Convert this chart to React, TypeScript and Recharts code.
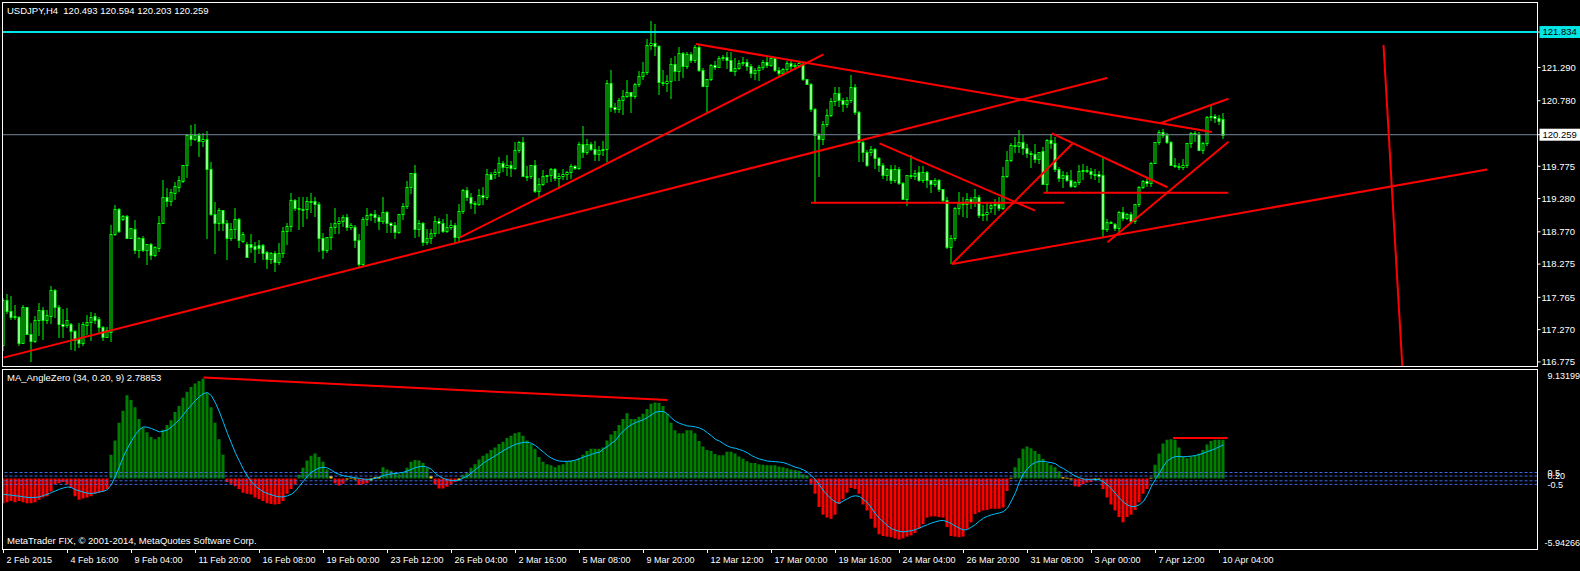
import React from "react";
import { ComposedChart, Bar, Line, XAxis, YAxis, ReferenceLine, Cell } from "recharts";

const FONT = "'Liberation Sans', Arial, sans-serif";
const AXIS_W = 42.5;
const X_DOMAIN: [number, number] = [-0.375, 383.5];
const PRICE_DOMAIN: [number, number] = [116.712, 122.279];
const IND_DOMAIN: [number, number] = [-5.94266, 9.13199];

// USDJPY H4 bars, [open, high, low, close]
const candles: number[][] = [
  [117.03, 117.75, 116.96, 117.72], [117.73, 117.82, 117.52, 117.55], [117.55, 117.79, 117.44, 117.47], [117.47, 117.65, 117.44, 117.48],
  [117.46, 117.48, 117.03, 117.07], [117.07, 117.65, 117.06, 117.61], [117.61, 117.62, 117.2, 117.21], [117.21, 117.37, 116.79, 117.1],
  [117.1, 117.48, 117.08, 117.42], [117.42, 117.68, 117.19, 117.57], [117.57, 117.62, 117.12, 117.42], [117.42, 117.57, 117.37, 117.49],
  [117.48, 117.94, 117.37, 117.88], [117.88, 117.89, 117.47, 117.61], [117.62, 117.65, 117.16, 117.35], [117.35, 117.59, 117.16, 117.32],
  [117.34, 117.6, 117.31, 117.42], [117.35, 117.37, 116.98, 117.25], [117.25, 117.27, 116.95, 117.11], [117.12, 117.37, 117.01, 117.06],
  [117.06, 117.38, 117.03, 117.36], [117.34, 117.49, 117.21, 117.39], [117.38, 117.54, 117.11, 117.47], [117.48, 117.53, 117.37, 117.42],
  [117.43, 117.47, 117.24, 117.31], [117.31, 117.32, 117.11, 117.16], [117.16, 117.31, 117.15, 117.26], [117.24, 118.88, 117.1, 118.73],
  [118.74, 119.18, 118.72, 119.12], [119.12, 119.14, 118.77, 118.79], [118.97, 119.03, 118.95, 119.01], [119.01, 119.03, 118.67, 118.68],
  [118.68, 118.83, 118.67, 118.83], [118.82, 118.95, 118.44, 118.49], [118.49, 118.69, 118.39, 118.68], [118.68, 118.7, 118.47, 118.49],
  [118.49, 118.58, 118.27, 118.58], [118.58, 118.6, 118.35, 118.42], [118.41, 118.55, 118.4, 118.53], [118.52, 119.01, 118.48, 118.91],
  [118.91, 119.57, 118.9, 119.3], [119.3, 119.44, 119.17, 119.25], [119.25, 119.43, 119.18, 119.38], [119.37, 119.54, 119.28, 119.47],
  [119.46, 119.63, 119.4, 119.56], [119.55, 119.79, 119.54, 119.79], [119.8, 120.27, 119.61, 120.26], [120.26, 120.41, 120.1, 120.2],
  [120.2, 120.43, 120.18, 120.26], [120.26, 120.29, 119.94, 120.17], [120.17, 120.29, 120.08, 120.2], [120.2, 120.32, 118.67, 119.74],
  [119.74, 119.84, 119.03, 119.04], [119.04, 119.23, 118.45, 118.91], [118.91, 119.13, 118.8, 119.1], [119.1, 119.11, 118.8, 118.9],
  [118.9, 118.95, 118.35, 118.67], [118.67, 118.9, 118.64, 118.82], [118.82, 119.14, 118.67, 118.96], [118.96, 118.98, 118.53, 118.65],
  [118.63, 118.76, 118.62, 118.74], [118.58, 118.62, 118.38, 118.39], [118.58, 118.74, 118.46, 118.54], [118.55, 118.62, 118.3, 118.51],
  [118.57, 118.64, 118.44, 118.52], [118.57, 118.58, 118.36, 118.45], [118.46, 118.48, 118.21, 118.35], [118.35, 118.46, 118.29, 118.44],
  [118.44, 118.48, 118.17, 118.3], [118.3, 118.6, 118.28, 118.45], [118.45, 118.85, 118.38, 118.78], [118.78, 118.91, 118.59, 118.86],
  [118.86, 119.36, 118.79, 119.26], [119.26, 119.28, 119.1, 119.14], [119.14, 119.3, 118.81, 119.12], [119.12, 119.31, 118.86, 119.12],
  [119.12, 119.31, 118.98, 119.25], [119.25, 119.36, 119.08, 119.24], [119.24, 119.31, 119.01, 119.2], [119.2, 119.22, 118.48, 118.67],
  [118.67, 118.75, 118.37, 118.49], [118.49, 118.69, 118.46, 118.69], [118.69, 118.91, 118.5, 118.84], [118.84, 119.14, 118.75, 118.91],
  [118.91, 118.99, 118.75, 118.93], [118.93, 119.03, 118.86, 118.99], [118.99, 119.05, 118.8, 118.85], [118.85, 118.91, 118.81, 118.87],
  [118.85, 118.87, 118.53, 118.64], [118.64, 118.74, 118.23, 118.27], [118.27, 118.99, 118.24, 118.96], [118.96, 119.14, 118.87, 119.03],
  [119.03, 119.06, 118.95, 119.05], [119.05, 119.1, 118.92, 118.99], [118.99, 119.03, 118.81, 118.93], [118.93, 119.31, 118.9, 119.08],
  [119.08, 119.09, 118.76, 118.9], [118.9, 118.92, 118.77, 118.88], [118.88, 118.92, 118.68, 118.76], [118.76, 119.04, 118.75, 119.04],
  [119.04, 119.21, 118.96, 119.17], [119.17, 119.55, 119.14, 119.45], [119.45, 119.67, 119.37, 119.67], [119.67, 119.79, 118.69, 118.81],
  [118.81, 118.95, 118.7, 118.91], [118.91, 118.92, 118.56, 118.62], [118.62, 118.82, 118.58, 118.67], [118.67, 118.82, 118.6, 118.75],
  [118.75, 119.01, 118.7, 118.93], [118.93, 118.98, 118.75, 118.91], [118.91, 118.96, 118.76, 118.78], [118.78, 119.04, 118.76, 118.84],
  [118.84, 118.95, 118.81, 118.87], [118.87, 118.91, 118.62, 118.69], [118.69, 119.2, 118.62, 119.09], [119.09, 119.43, 119.06, 119.41],
  [119.41, 119.45, 119.26, 119.31], [119.31, 119.36, 119.13, 119.21], [119.21, 119.25, 119.06, 119.2], [119.2, 119.42, 119.18, 119.33],
  [119.33, 119.46, 119.2, 119.31], [119.31, 119.74, 119.27, 119.66], [119.66, 119.69, 119.58, 119.58], [119.65, 119.73, 119.59, 119.69],
  [119.69, 119.92, 119.62, 119.82], [119.82, 119.86, 119.7, 119.77], [119.77, 119.95, 119.64, 119.79], [119.79, 119.85, 119.62, 119.75],
  [119.75, 120.14, 119.74, 120.02], [120.02, 120.16, 120.0, 120.14], [120.14, 120.22, 119.62, 119.63], [119.63, 119.78, 119.56, 119.62],
  [119.62, 119.8, 119.6, 119.79], [119.79, 119.87, 119.38, 119.39], [119.39, 119.59, 119.32, 119.51], [119.51, 119.72, 119.49, 119.62],
  [119.62, 119.64, 119.54, 119.64], [119.64, 119.75, 119.55, 119.74], [119.74, 119.75, 119.56, 119.59], [119.59, 119.67, 119.44, 119.62],
  [119.62, 119.73, 119.58, 119.66], [119.66, 119.7, 119.58, 119.68], [119.68, 119.81, 119.59, 119.78], [119.78, 119.8, 119.73, 119.75],
  [119.75, 120.14, 119.74, 120.12], [120.12, 120.39, 119.91, 119.99], [119.99, 120.19, 119.97, 120.11], [120.11, 120.15, 120.02, 120.04],
  [120.04, 120.16, 119.87, 119.96], [119.96, 120.09, 119.87, 120.03], [120.03, 120.16, 119.95, 120.04], [120.04, 121.1, 119.85, 121.05],
  [121.05, 121.25, 120.62, 120.69], [120.69, 120.75, 120.61, 120.65], [120.65, 120.82, 120.61, 120.79], [120.79, 120.94, 120.57, 120.85],
  [120.85, 121.1, 120.83, 120.91], [120.91, 120.91, 120.61, 120.85], [120.85, 121.05, 120.82, 121.03], [121.03, 121.24, 121.0, 121.16],
  [121.16, 121.38, 121.11, 121.22], [121.22, 121.73, 121.19, 121.64], [121.64, 122.0, 121.58, 121.67], [121.67, 121.96, 121.48, 121.62],
  [121.62, 121.64, 120.88, 121.07], [121.07, 121.25, 121.02, 121.05], [121.05, 121.18, 120.93, 121.08], [121.08, 121.43, 120.82, 121.34],
  [121.34, 121.46, 121.1, 121.23], [121.23, 121.6, 121.1, 121.51], [121.51, 121.53, 121.15, 121.32], [121.32, 121.52, 121.28, 121.5],
  [121.5, 121.52, 121.38, 121.4], [121.4, 121.64, 121.38, 121.61], [121.61, 121.63, 121.24, 121.25], [121.25, 121.28, 121.0, 121.01],
  [121.01, 121.12, 120.61, 121.11], [121.11, 121.34, 121.1, 121.33], [121.33, 121.39, 121.27, 121.3], [121.3, 121.46, 121.29, 121.43],
  [121.43, 121.48, 121.4, 121.45], [121.45, 121.53, 121.28, 121.41], [121.41, 121.53, 121.23, 121.24], [121.24, 121.43, 121.18, 121.28],
  [121.28, 121.4, 121.26, 121.36], [121.36, 121.45, 121.33, 121.38], [121.38, 121.42, 121.25, 121.31], [121.31, 121.34, 121.15, 121.21],
  [121.21, 121.28, 121.12, 121.25], [121.25, 121.33, 121.1, 121.29], [121.29, 121.4, 121.27, 121.38], [121.38, 121.45, 121.3, 121.33],
  [121.33, 121.46, 121.31, 121.44], [121.44, 121.45, 121.24, 121.25], [121.25, 121.3, 121.17, 121.21], [121.21, 121.28, 121.18, 121.26],
  [121.26, 121.39, 121.24, 121.36], [121.36, 121.4, 121.27, 121.31], [121.31, 121.36, 121.27, 121.33], [121.33, 121.38, 121.3, 121.36],
  [121.34, 121.36, 121.1, 121.11], [121.11, 121.12, 121.03, 121.04], [121.04, 121.05, 120.62, 120.65], [120.65, 120.67, 119.23, 120.25],
  [120.25, 120.28, 119.62, 120.19], [120.19, 120.47, 120.12, 120.43], [120.43, 120.65, 120.4, 120.56], [120.56, 120.82, 120.55, 120.77],
  [120.77, 120.99, 120.72, 120.9], [120.9, 120.99, 120.7, 120.79], [120.79, 120.82, 120.63, 120.73], [120.73, 120.83, 120.68, 120.79],
  [120.79, 121.17, 120.76, 120.99], [120.99, 121.03, 120.58, 120.6], [120.6, 120.62, 119.85, 120.14], [120.14, 120.17, 119.85, 120.0],
  [120.0, 120.02, 119.78, 119.79], [119.99, 120.08, 119.95, 120.04], [120.04, 120.05, 119.75, 119.9], [119.9, 119.92, 119.7, 119.79],
  [119.79, 119.83, 119.59, 119.64], [119.64, 119.75, 119.56, 119.74], [119.74, 119.8, 119.52, 119.57], [119.57, 119.8, 119.54, 119.74],
  [119.74, 119.76, 119.51, 119.52], [119.52, 119.53, 119.27, 119.27], [119.27, 119.64, 119.18, 119.64], [119.64, 119.95, 119.59, 119.62],
  [119.62, 119.72, 119.58, 119.67], [119.68, 119.78, 119.55, 119.56], [119.56, 119.78, 119.53, 119.68], [119.68, 119.7, 119.46, 119.56],
  [119.56, 119.57, 119.38, 119.51], [119.51, 119.59, 119.47, 119.57], [119.57, 119.58, 119.4, 119.42], [119.42, 119.43, 119.22, 119.26],
  [119.26, 119.31, 118.52, 118.54], [118.54, 118.72, 118.29, 118.67], [118.67, 119.15, 118.65, 119.13], [119.13, 119.38, 119.05, 119.21],
  [119.21, 119.31, 119.01, 119.19], [119.19, 119.37, 119.0, 119.27], [119.27, 119.31, 119.13, 119.22], [119.22, 119.43, 119.16, 119.31],
  [119.31, 119.33, 119.0, 119.03], [119.03, 119.18, 118.95, 119.05], [119.05, 119.21, 118.95, 119.07], [119.13, 119.21, 119.08, 119.18],
  [119.18, 119.28, 119.05, 119.2], [119.2, 119.3, 119.1, 119.14], [119.14, 119.77, 119.12, 119.62], [119.62, 120.01, 119.61, 119.87],
  [119.87, 120.13, 119.86, 120.1], [120.1, 120.23, 120.0, 120.08], [120.08, 120.33, 120.0, 120.14], [120.14, 120.25, 119.97, 120.06],
  [120.06, 120.12, 119.92, 119.98], [119.98, 120.01, 119.77, 119.96], [119.96, 120.12, 119.84, 119.88], [119.88, 120.0, 119.82, 119.99],
  [120.01, 120.07, 119.5, 119.51], [119.51, 120.19, 119.39, 120.18], [120.18, 120.27, 120.05, 120.13], [120.13, 120.22, 119.7, 119.73],
  [119.73, 119.77, 119.55, 119.59], [119.59, 119.7, 119.46, 119.64], [119.64, 119.68, 119.55, 119.57], [119.57, 119.72, 119.45, 119.47],
  [119.47, 119.55, 119.45, 119.53], [119.53, 119.8, 119.5, 119.7], [119.7, 119.81, 119.58, 119.72], [119.72, 119.78, 119.68, 119.7],
  [119.7, 119.75, 119.6, 119.66], [119.66, 119.73, 119.58, 119.65], [119.65, 119.7, 119.54, 119.63], [119.64, 119.9, 118.69, 118.81],
  [118.81, 118.96, 118.78, 118.92], [118.92, 118.94, 118.9, 118.92], [118.89, 118.9, 118.8, 118.83], [118.83, 119.09, 118.78, 119.07],
  [119.07, 119.15, 118.95, 118.98], [118.98, 119.06, 118.96, 119.05], [119.05, 119.07, 118.92, 118.93], [118.93, 119.2, 118.9, 119.2],
  [119.2, 119.47, 119.16, 119.45], [119.45, 119.56, 119.44, 119.55], [119.55, 119.6, 119.47, 119.52], [119.52, 119.84, 119.47, 119.83],
  [119.83, 120.15, 119.82, 120.14], [120.14, 120.33, 120.12, 120.3], [120.3, 120.34, 120.22, 120.26], [120.26, 120.28, 120.13, 120.14],
  [120.14, 120.17, 119.79, 119.8], [119.8, 119.9, 119.77, 119.78], [119.78, 119.83, 119.74, 119.76], [119.76, 119.88, 119.74, 119.79],
  [119.79, 120.13, 119.77, 120.13], [120.13, 120.3, 120.07, 120.28], [120.28, 120.32, 120.17, 120.27], [120.27, 120.3, 120.02, 120.03],
  [120.03, 120.14, 119.98, 120.13], [120.13, 120.55, 120.1, 120.53], [120.53, 120.7, 120.48, 120.55], [120.55, 120.58, 120.45, 120.52],
  [120.52, 120.56, 120.43, 120.47], [120.493, 120.594, 120.203, 120.259],
];

// MA_AngleZero histogram, one value per bar
const histogram = [
  -2.1, -2.0, -1.9, -2.0, -1.9, -2.0, -2.1, -2.1, -2.0, -1.8,
  -1.6, -1.5, -1.1, -0.5, -0.4, -0.3, -0.5, -0.8, -1.5, -1.8,
  -1.7, -1.6, -1.5, -1.3, -1.2, -1.1, -0.9, 2.0, 3.2, 4.7,
  5.7, 7.0, 6.6, 6.0, 5.0, 4.3, 3.9, 3.5, 3.3, 3.5,
  4.1, 4.5, 4.9, 5.6, 6.1, 6.8, 7.3, 7.7, 8.0, 8.2,
  8.4, 7.2, 6.0, 4.7, 3.3, 2.0, -0.3, -0.45, -0.65, -0.9,
  -1.2, -1.3, -1.35, -1.6, -1.75, -1.9, -2.1, -2.15, -2.2, -2.15,
  -1.9, -1.3, -0.9, -0.5, 0.3, 0.9, 1.5, 1.9, 2.1, 1.8,
  1.4, 0.75, 0.2, -0.4, -0.6, -0.45, -0.1, 0.05, -0.1, -0.55,
  -0.5, -0.4, -0.2, 0.1, 0.15, 0.95, 0.75, 0.65, 0.45, 0.35,
  0.5, 0.9, 1.4, 1.55, 1.5, 1.3, 0.9, 0.2, -0.5, -0.85,
  -0.85, -0.7, -0.5, -0.3, -0.15, 0.3, 0.5, 0.9, 1.2, 1.6,
  1.9, 2.1, 2.4, 2.6, 2.9, 3.1, 3.4, 3.6, 3.8, 3.9,
  3.6, 3.2, 2.9, 2.5, 1.8, 1.4, 1.2, 1.1, 0.95, 1.1,
  1.2, 1.4, 1.5, 1.5, 1.7, 2.0, 2.3, 2.5, 2.5, 2.5,
  2.6, 3.2, 3.7, 4.0, 4.5, 5.0, 5.5, 5.0, 5.0, 5.2,
  5.45, 5.85, 6.3, 6.4, 6.35, 6.1, 5.45, 4.7, 4.05, 3.8,
  3.8, 4.05, 4.05, 3.8, 3.15, 2.7, 2.4, 2.3, 2.05, 1.95,
  1.95, 2.25, 2.25, 2.1, 1.85, 1.65, 1.45, 1.3, 1.3, 1.2,
  1.15, 1.1, 1.1, 1.1, 1.0, 0.95, 0.85, 0.75, 0.7, 0.65,
  0.35, 0.25, -0.45, -1.3, -2.4, -3.05, -3.3, -3.4, -3.05, -2.15,
  -1.75, -1.2, -0.8, -0.9, -1.3, -2.2, -2.7, -3.4, -4.15, -4.7,
  -4.85, -4.9, -4.95, -5.05, -5.15, -5.05, -4.9, -4.8, -4.6, -4.25,
  -3.85, -3.3, -3.2, -3.2, -3.25, -3.3, -4.1, -4.85, -4.9, -4.95,
  -4.9, -4.25, -3.7, -3.0, -2.85, -2.7, -2.65, -2.55, -2.55, -2.55,
  -2.45, -1.05, 0.05, 0.95, 1.7, 2.5, 2.7, 2.55, 2.3, 2.05,
  1.65, 1.3, 1.1, 0.95, 0.6, 0.1, 0.05, -0.1, -0.65, -0.7,
  -0.5, -0.35, -0.3, -0.15, -0.1, -0.9, -1.6, -2.2, -2.7, -3.25,
  -3.7, -3.25, -3.05, -2.65, -2.0, -1.3, -0.9, 0.05, 1.15, 2.1,
  2.95, 3.25, 3.3, 3.25, 2.6, 1.85, 1.7, 1.85, 1.95, 2.1,
  2.4, 2.85, 3.15, 3.25, 3.25, 3.25,
];

// signal line (period 9)
const signal = [
  -1.33, -1.38, -1.41, -1.46, -1.49, -1.55, -1.6, -1.6, -1.6, -1.55,
  -1.44, -1.33, -1.19, -1.05, -0.91, -0.8, -0.72, -0.77, -0.94, -1.05,
  -1.16, -1.24, -1.27, -1.22, -1.13, -1.08, -0.94, -0.5, 0.2, 1.02,
  1.85, 2.54, 3.15, 3.7, 4.12, 4.34, 4.31, 4.2, 4.06, 3.92,
  3.98, 4.09, 4.34, 4.64, 4.97, 5.39, 5.8, 6.19, 6.57, 6.9,
  7.15, 7.24, 6.96, 6.35, 5.58, 4.7, 3.78, 2.96, 2.13, 1.44,
  0.75, 0.19, -0.28, -0.64, -0.91, -1.13, -1.27, -1.38, -1.49, -1.55,
  -1.55, -1.46, -1.33, -1.05, -0.64, -0.22, 0.19, 0.52, 0.75, 0.88,
  0.94, 0.88, 0.69, 0.47, 0.33, 0.22, 0.17, 0.11, 0.06, 0.0,
  -0.06, -0.08, -0.06, 0.0, 0.11, 0.25, 0.33, 0.39, 0.41, 0.47,
  0.52, 0.64, 0.77, 0.91, 0.99, 1.02, 0.94, 0.77, 0.41, 0.17,
  0.0, -0.11, -0.17, -0.17, -0.14, 0.06, 0.19, 0.47, 0.75, 1.02,
  1.3, 1.52, 1.71, 1.93, 2.13, 2.35, 2.54, 2.71, 2.87, 2.96,
  3.04, 3.04, 2.96, 2.76, 2.49, 2.21, 1.93, 1.71, 1.55, 1.46,
  1.44, 1.44, 1.46, 1.55, 1.66, 1.8, 1.91, 2.02, 2.15, 2.2,
  2.49, 2.68, 2.96, 3.2, 3.65, 4.0, 4.31, 4.53, 4.7, 4.83,
  4.94, 5.14, 5.36, 5.58, 5.64, 5.64, 5.44, 5.08, 4.81, 4.64,
  4.53, 4.42, 4.39, 4.34, 4.25, 4.09, 3.84, 3.59, 3.29, 3.15,
  2.93, 2.73, 2.6, 2.54, 2.43, 2.32, 2.15, 1.93, 1.77, 1.63,
  1.55, 1.46, 1.44, 1.41, 1.38, 1.33, 1.22, 1.08, 0.94, 0.86,
  0.72, 0.52, 0.22, -0.11, -0.55, -1.05, -1.41, -1.74, -1.99, -2.1,
  -1.88, -1.71, -1.52, -1.46, -1.52, -1.77, -2.04, -2.49, -2.98, -3.37,
  -3.67, -3.98, -4.23, -4.36, -4.45, -4.5, -4.45, -4.39, -4.31, -4.17,
  -4.03, -3.9, -3.76, -3.65, -3.56, -3.54, -3.65, -3.81, -4.01, -4.2,
  -4.34, -4.31, -4.09, -3.87, -3.59, -3.34, -3.18, -3.07, -2.98, -2.9,
  -2.79, -2.49, -1.88, -1.19, -0.28, 0.39, 0.83, 1.16, 1.35, 1.44,
  1.44, 1.38, 1.33, 1.24, 0.99, 0.83, 0.61, 0.39, 0.19, 0.06,
  -0.06, -0.08, -0.08, -0.08, -0.11, -0.28, -0.55, -0.88, -1.27, -1.66,
  -1.99, -2.24, -2.38, -2.35, -2.21, -1.93, -1.38, -0.64, -0.08, 0.47,
  1.05, 1.49, 1.71, 1.85, 1.85, 1.82, 1.85, 1.88, 1.93, 2.02,
  2.13, 2.27, 2.38, 2.51, 2.68, 2.82,
];

const dateTicks = [0, 16, 32, 48, 64, 80, 96, 112, 128, 144, 160, 176, 192, 208, 224, 240, 256, 272, 288, 304];
const dateLabels = [
  "2 Feb 2015", "4 Feb 16:00", "9 Feb 04:00", "11 Feb 20:00", "16 Feb 08:00", "19 Feb 00:00", "23 Feb 12:00",
  "26 Feb 04:00", "2 Mar 16:00", "5 Mar 08:00", "9 Mar 20:00", "12 Mar 12:00", "17 Mar 00:00", "19 Mar 16:00",
  "24 Mar 04:00", "26 Mar 20:00", "31 Mar 08:00", "3 Apr 00:00", "7 Apr 12:00", "10 Apr 04:00",
];

const priceTicks = [121.29, 120.78, 119.775, 119.28, 118.77, 118.275, 117.765, 117.27, 116.775];
const resistance = 121.834;
const lastPrice = 120.259;

// drawn trend lines: [bar, price, bar, price]
const trendLines = [
  [0, 116.84, 275.9, 121.13],
  [114, 118.68, 205, 121.49],
  [173.1, 121.65, 302.1, 120.3],
  [201.9, 119.216, 265.2, 119.216],
  [260, 119.37, 306.2, 119.37],
  [219, 120.127, 257.9, 119.094],
  [237.1, 118.276, 267.35, 120.127],
  [237.1, 118.276, 370.9, 119.725],
  [262.1, 120.28, 291, 119.453],
  [276, 118.609, 306.25, 120.152],
  [289.2, 120.434, 306.25, 120.81],
  [345, 121.635, 349.7, 116.712],
];
const indicatorLines = [
  [50, 8.5, 166, 6.6],
  [292.4, 3.4, 306, 3.4],
];
const levels = [0.5, 0.2, -0.2, -0.5];
const levelLabels = [9.13199, 0.5, 0.2, -0.5, -5.94266];

const priceData = candles.map(([o, h, l, c], i) => ({ i, o, h, l, c, range: [l, h] }));
const indData = histogram.map((v, i) => ({ i, v, s: signal[i] }));

const histColor = (v: number) => (v > 0.2 ? "#008000" : v < -0.2 ? "#ff0000" : "#ffd700");

function Candle(props: any) {
  const { x, y, width, height, payload } = props;
  if (!payload) return null;
  const { o, h, l, c } = payload;
  const top = Math.min(y, y + height);
  const span = Math.abs(height);
  const py = (p: number) => (h === l ? top : top + ((h - p) / (h - l)) * span);
  const cx = x + width / 2;
  const bTop = Math.round(py(Math.max(o, c)));
  const bBot = Math.round(py(Math.min(o, c)));
  return (
    <g>
      <line x1={cx} x2={cx} y1={Math.round(top)} y2={Math.round(top + span) + 1} stroke="#00ff00" />
      <rect
        x={x + 0.5}
        y={bTop + 0.5}
        width={width - 1}
        height={Math.max(bBot - bTop, 1)}
        fill={c < o ? "#ffffff" : "#000000"}
        stroke="#00ff00"
      />
    </g>
  );
}

function PriceTick(props: any) {
  const { x, y, payload } = props;
  const v = payload.value;
  const label = v.toFixed(3);
  if (v === resistance || v === lastPrice) {
    return (
      <g>
        <rect x={x - 2} y={y - 6} width={42} height={12} fill={v === resistance ? "#00e5e5" : "#ffffff"} />
        <text x={x + 1} y={y + 3.4} fontSize={9.5} fontFamily={FONT} fill="#000">{label}</text>
      </g>
    );
  }
  return (
    <text x={x} y={y + 3.4} fontSize={9.5} fontFamily={FONT} fill="#fff">{label}</text>
  );
}

function IndTick(props: any) {
  const { x, y, payload } = props;
  const v = payload.value;
  let dy = 3.3;
  let dx = 0;
  let label = String(v);
  if (v === 9.13199) dy = 9;
  if (v === -5.94266) {
    dy = -3;
    dx = -3;
  }
  if (v === 0.2) label = "0.20";
  return (
    <text x={x + dx} y={y + dy} fontSize={9} fontFamily={FONT} fill="#fff">{label}</text>
  );
}

function DateTick(props: any) {
  const { x, y, payload } = props;
  const k = dateTicks.indexOf(payload.value);
  return (
    <text x={x + 3} y={y + 7.5} fontSize={9} fontFamily={FONT} fill="#fff">{dateLabels[k]}</text>
  );
}

const textStyle: React.CSSProperties = {
  position: "absolute",
  left: 7,
  color: "#fff",
  fontFamily: FONT,
  fontSize: 9.5,
  lineHeight: "11px",
  whiteSpace: "pre",
};

export default function App() {
  return (
    <div style={{ position: "fixed", left: 0, top: 0, width: 1580, height: 571, background: "#000", overflow: "hidden" }}>
      <div style={{ position: "absolute", left: 0, top: 0 }}>
        <ComposedChart width={1580} height={369} data={priceData} margin={{ top: 3, right: 0, bottom: 3, left: 2 }}>
          <XAxis dataKey="i" type="number" domain={X_DOMAIN} hide allowDataOverflow />
          <YAxis
            orientation="right"
            width={AXIS_W}
            domain={PRICE_DOMAIN}
            allowDataOverflow
            ticks={[resistance, ...priceTicks, lastPrice]}
            interval={0}
            axisLine={false}
            tickLine={{ stroke: "#fff" }}
            tickSize={3}
            tickMargin={1}
            tick={<PriceTick />}
          />
          <ReferenceLine y={lastPrice} stroke="#778899" strokeWidth={1} />
          <ReferenceLine y={resistance} stroke="#00e5e5" strokeWidth={2} />
          <Bar dataKey="range" barSize={3} shape={<Candle />} isAnimationActive={false} />
          {trendLines.map(([x1, y1, x2, y2], k) => (
            <ReferenceLine
              key={k}
              segment={[{ x: x1, y: y1 }, { x: x2, y: y2 }]}
              stroke="#ff0000"
              strokeWidth={2}
              ifOverflow="visible"
            />
          ))}
        </ComposedChart>
      </div>

      <div style={{ position: "absolute", left: 0, top: 368 }}>
        <ComposedChart width={1580} height={203} data={indData} margin={{ top: 2, right: 0, bottom: 0, left: 2 }}>
          <XAxis
            dataKey="i"
            type="number"
            domain={X_DOMAIN}
            allowDataOverflow
            ticks={dateTicks}
            interval={0}
            height={22}
            axisLine={false}
            tickLine={{ stroke: "#fff" }}
            tickSize={4}
            tickMargin={2}
            tick={<DateTick />}
          />
          <YAxis
            orientation="right"
            width={AXIS_W}
            domain={IND_DOMAIN}
            allowDataOverflow
            ticks={levelLabels}
            interval={0}
            axisLine={false}
            tickLine={false}
            tickMargin={4}
            tick={<IndTick />}
          />
          <Bar dataKey="v" barSize={3} isAnimationActive={false}>
            {indData.map((d) => (
              <Cell key={d.i} fill={histColor(d.v)} />
            ))}
          </Bar>
          {levels.map((lv) => (
            <ReferenceLine key={lv} y={lv} stroke="#4169e1" strokeDasharray="3 2" />
          ))}
          <Line dataKey="s" type="linear" stroke="#00bfff" strokeWidth={1} dot={false} isAnimationActive={false} />
          {indicatorLines.map(([x1, y1, x2, y2], k) => (
            <ReferenceLine
              key={k}
              segment={[{ x: x1, y: y1 }, { x: x2, y: y2 }]}
              stroke="#ff0000"
              strokeWidth={2}
              ifOverflow="visible"
            />
          ))}
        </ComposedChart>
      </div>

      <div style={{ position: "absolute", left: 2, top: 2, width: 1534, height: 363, border: "1px solid #fff" }} />
      <div style={{ position: "absolute", left: 2, top: 369, width: 1534, height: 179, border: "1px solid #fff" }} />

      <div style={{ ...textStyle, top: 5 }}>{"USDJPY,H4  120.493 120.594 120.203 120.259"}</div>
      <div style={{ ...textStyle, top: 372 }}>{"MA_AngleZero (34, 0.20, 9) 2.78853"}</div>
      <div style={{ ...textStyle, top: 535 }}>{"MetaTrader FIX, © 2001-2014, MetaQuotes Software Corp."}</div>
    </div>
  );
}
